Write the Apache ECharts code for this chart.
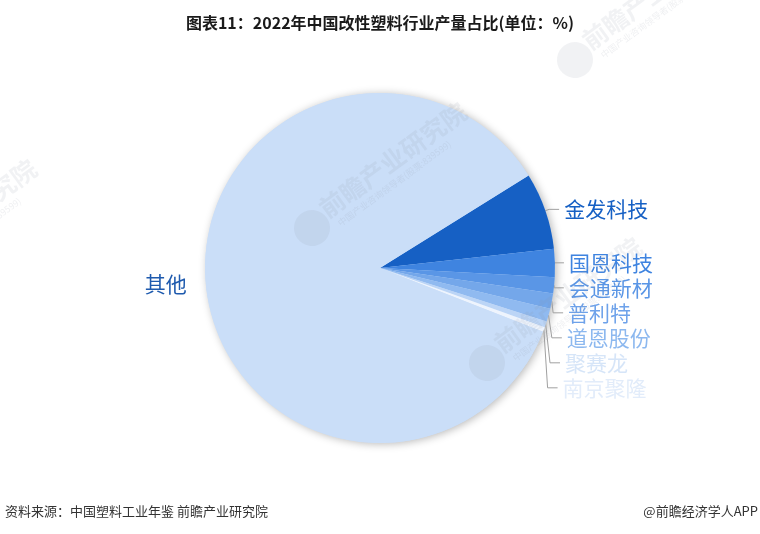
<!DOCTYPE html>
<html>
<head>
<meta charset="utf-8">
<script src="https://cdn.jsdelivr.net/npm/echarts@6/dist/echarts.min.js"></script>
<style>
html,body{margin:0;padding:0;background:#fff;}
#chart{width:760px;height:534px;}
</style>
</head>
<body>
<div id="chart"></div>
<script>
const categories = ['金发科技','国恩科技','会通新材','普利特','道恩股份','聚赛龙','南京聚隆','其他'];
const values = [7.1, 2.6, 1.5, 1.4, 1.2, 0.55, 0.45, 85.2];
const sliceColors = ['#1660c4','#3f84e0','#5a96e6','#74a7ea','#90baf0','#bcd5f6','#eef4fd','#cadef8'];
const labelColors = ['#1660c4','#3f84e0','#5a96e6','#6ea2ea','#8cb8ef','#d6e5f8','#e2ecfa','#1e5aae'];
const titleText = '图表11：2022年中国改性塑料行业产量占比(单位：%)';
const sourceText = '资料来源：中国塑料工业年鉴 前瞻产业研究院';
const creditText = '@前瞻经济学人APP';

const FONT = '"Noto Sans CJK SC", "Noto Sans", sans-serif';
const chart = echarts.init(document.getElementById('chart'), null, {renderer: 'canvas'});

const pieData = categories.map((name, i) => ({
  name: name,
  value: values[i],
  itemStyle: {color: sliceColors[i]},
  label: {color: labelColors[i]},
  labelLine: {show: name !== '其他'}
}));
const total = values.reduce((a, b) => a + b, 0);

function watermark(x, y) {
  return {
    type: 'group', x: x, y: y, rotation: 0.63, silent: true, z: 100, zlevel: 1,
    children: [
      {type: 'circle', z: 100, zlevel: 1, shape: {cx: 0, cy: 0, r: 18}, style: {fill: 'rgba(140,150,165,0.12)'}},
      {type: 'text', z: 100, zlevel: 1, x: 18, y: -20, style: {text: '前瞻产业研究院', font: 'bold 25px ' + FONT, fill: 'rgba(140,150,165,0.12)'}},
      {type: 'text', z: 100, zlevel: 1, x: 24, y: 8, style: {text: '中国产业咨询领导者(股票:839599)', font: '9px ' + FONT, fill: 'rgba(140,150,165,0.14)'}}
    ]
  };
}

chart.setOption({
  backgroundColor: '#ffffff',
  animation: false,
  title: {
    text: titleText,
    left: 'center',
    top: 10,
    textStyle: {fontFamily: FONT, fontSize: 16, fontWeight: 'bold', color: '#1a1a1a'}
  },
  graphic: [
    {type: 'text', left: 5, top: 505, style: {text: sourceText, font: '13px ' + FONT, fill: '#333'}},
    {type: 'text', right: 2, top: 505, style: {text: creditText, font: '13px ' + FONT, fill: '#333'}},
    watermark(312, 228),
    watermark(487, 363),
    watermark(575, 60),
    watermark(-118, 285)
  ],
  series: [
    {
      type: 'pie',
      silent: true,
      center: [380, 268],
      radius: 175,
      startAngle: 31.9,
      z: 1,
      label: {show: false},
      labelLine: {show: false},
      itemStyle: {color: '#cadef8', shadowBlur: 8, shadowColor: 'rgba(0,0,0,0.28)', shadowOffsetX: 2, shadowOffsetY: 1},
      data: [{name: 'all', value: total}]
    },
    {
      type: 'pie',
      center: [380, 268],
      radius: 175,
      startAngle: 31.9,
      clockwise: true,
      z: 2,
      avoidLabelOverlap: true,
      label: {
        show: true,
        position: 'outside',
        formatter: '{b}',
        fontFamily: FONT,
        fontSize: 21,
        lineHeight: 23
      },
      labelLine: {
        show: true,
        length: 4,
        length2: 10,
        lineStyle: {color: '#a0a0a0', width: 1}
      },
      itemStyle: {borderWidth: 0},
      data: pieData
    }
  ]
});
</script>
</body>
</html>
